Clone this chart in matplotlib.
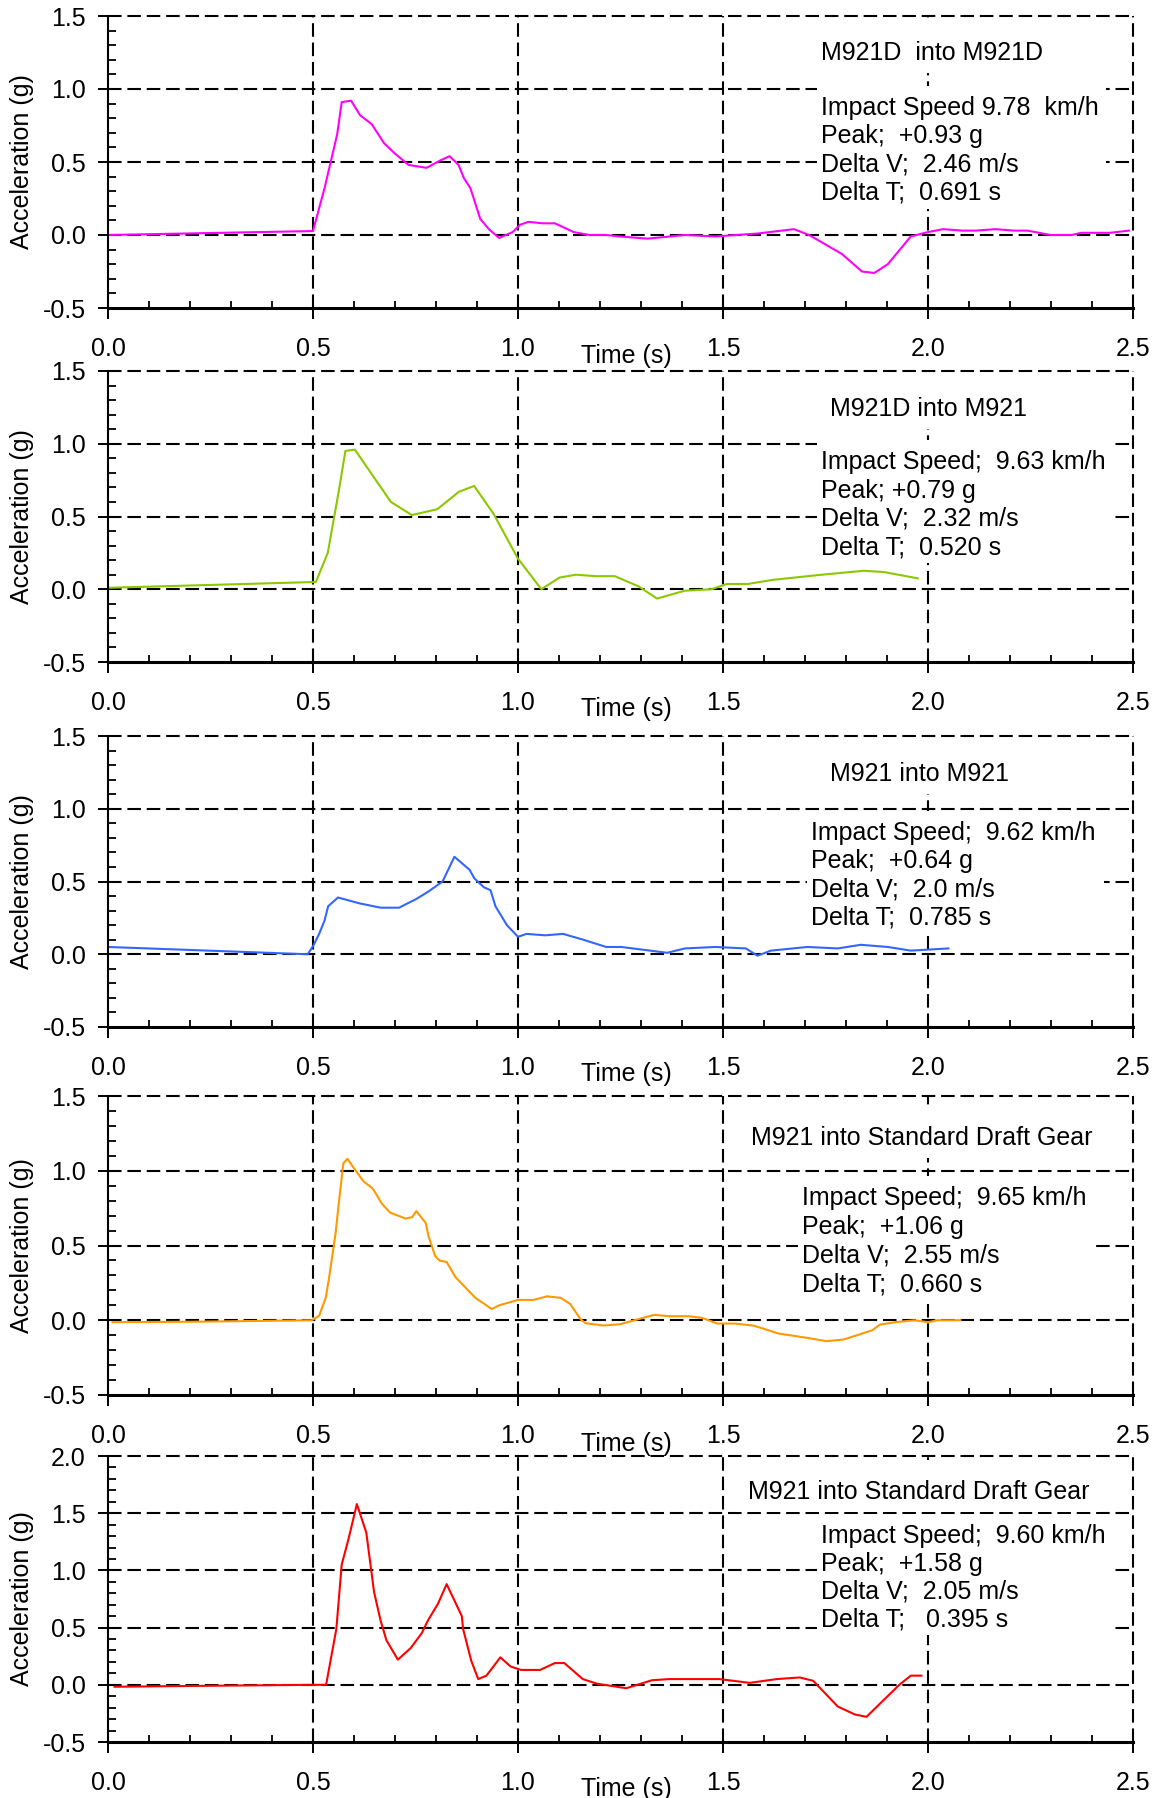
import numpy as np
import matplotlib
matplotlib.use('Agg')
import matplotlib.pyplot as plt
from matplotlib.ticker import MultipleLocator, FormatStrFormatter
from matplotlib.patches import Rectangle
from matplotlib.transforms import Bbox

plt.rcParams['font.family'] = ['Liberation Sans', 'DejaVu Sans']

# --- data ---
t1 = [0, 0.5, 0.529, 0.559, 0.570, 0.593, 0.615, 0.643, 0.673, 0.699, 0.733, 0.777, 0.81, 0.833, 0.855,
      0.868, 0.884, 0.908, 0.929, 0.954, 0.987, 1.005, 1.025, 1.06, 1.09, 1.136, 1.174, 1.215, 1.248, 1.316,
      1.407, 1.481, 1.584, 1.673, 1.71, 1.79, 1.839, 1.869, 1.902, 1.958, 2.0, 2.037, 2.084, 2.117, 2.164,
      2.21, 2.243, 2.299, 2.35, 2.374, 2.444, 2.49]
a1 = [0, 0.027, 0.33, 0.69, 0.91, 0.92, 0.82, 0.76, 0.63, 0.56, 0.48, 0.46, 0.51, 0.54, 0.48,
      0.39, 0.32, 0.11, 0.04, -0.02, 0.02, 0.07, 0.09, 0.08, 0.08, 0.02, 0.0, 0.0, -0.01, -0.025,
      0.0, -0.01, 0.01, 0.04, 0.0, -0.13, -0.25, -0.26, -0.20, -0.01, 0.02, 0.04, 0.03, 0.03, 0.04,
      0.03, 0.03, 0.0, 0.0, 0.015, 0.015, 0.03]

t2 = [0, 0.507, 0.536, 0.562, 0.579, 0.602, 0.690, 0.741, 0.803, 0.856, 0.893, 0.940, 1.0, 1.057, 1.101,
      1.141, 1.19, 1.236, 1.294, 1.339, 1.407, 1.472, 1.509, 1.56, 1.62, 1.734, 1.843, 1.893, 1.975]
a2 = [0.01, 0.05, 0.25, 0.66, 0.95, 0.96, 0.60, 0.51, 0.55, 0.67, 0.71, 0.52, 0.21, 0.0, 0.08,
      0.10, 0.09, 0.09, 0.02, -0.064, -0.01, 0.0, 0.036, 0.036, 0.064, 0.098, 0.127, 0.118, 0.075]

t3 = [0, 0.487, 0.501, 0.515, 0.528, 0.537, 0.561, 0.613, 0.665, 0.71, 0.752, 0.781, 0.816, 0.845, 0.882,
      0.894, 0.917, 0.933, 0.945, 0.973, 1.0, 1.021, 1.066, 1.11, 1.159, 1.215, 1.252, 1.364, 1.407, 1.481,
      1.556, 1.584, 1.617, 1.706, 1.78, 1.836, 1.902, 1.958, 2.05]
a3 = [0.05, 0.0, 0.06, 0.14, 0.23, 0.33, 0.39, 0.35, 0.32, 0.32, 0.38, 0.43, 0.50, 0.67, 0.58,
      0.52, 0.46, 0.44, 0.33, 0.20, 0.12, 0.14, 0.13, 0.14, 0.10, 0.05, 0.05, 0.01, 0.04, 0.05,
      0.04, -0.01, 0.025, 0.05, 0.04, 0.065, 0.05, 0.025, 0.04]

t4 = [0.011, 0.203, 0.497, 0.515, 0.531, 0.539, 0.555, 0.562, 0.574, 0.584, 0.599, 0.623, 0.646, 0.668, 0.688,
      0.726, 0.742, 0.752, 0.775, 0.782, 0.798, 0.808, 0.826, 0.847, 0.896, 0.936, 0.954, 1.0, 1.038, 1.071,
      1.104, 1.127, 1.153, 1.165, 1.208, 1.248, 1.332, 1.369, 1.416, 1.449, 1.486, 1.528, 1.575, 1.636, 1.706,
      1.752, 1.794, 1.864, 1.883, 1.92, 1.967, 2.0, 2.023, 2.079]
a4 = [-0.013, -0.01, 0.0, 0.03, 0.15, 0.28, 0.58, 0.76, 1.05, 1.08, 1.02, 0.93, 0.88, 0.78, 0.72,
      0.68, 0.69, 0.73, 0.65, 0.56, 0.43, 0.40, 0.39, 0.29, 0.15, 0.075, 0.10, 0.136, 0.136, 0.16,
      0.15, 0.11, 0.005, -0.02, -0.035, -0.027, 0.036, 0.027, 0.027, 0.016, -0.022, -0.022, -0.036, -0.089, -0.118,
      -0.14, -0.129, -0.067, -0.029, -0.013, 0.0, -0.013, 0.0, 0.0]

t5 = [0.016, 0.203, 0.497, 0.532, 0.557, 0.57, 0.587, 0.607, 0.63, 0.649, 0.665, 0.679, 0.707, 0.738, 0.765,
      0.78, 0.805, 0.826, 0.863, 0.866, 0.886, 0.903, 0.923, 0.957, 0.982, 1.007, 1.054, 1.09, 1.113, 1.158,
      1.192, 1.264, 1.327, 1.369, 1.491, 1.565, 1.631, 1.687, 1.72, 1.78, 1.822, 1.85, 1.93, 1.958, 1.984]
a5 = [-0.017, -0.01, 0.0, 0.0, 0.49, 1.05, 1.28, 1.58, 1.33, 0.81, 0.56, 0.39, 0.22, 0.32, 0.45,
      0.56, 0.71, 0.88, 0.60, 0.49, 0.21, 0.05, 0.08, 0.24, 0.16, 0.13, 0.13, 0.19, 0.19, 0.05,
      0.01, -0.03, 0.04, 0.05, 0.05, 0.017, 0.05, 0.064, 0.035, -0.19, -0.26, -0.28, 0.0, 0.08, 0.08]

titles = ['M921D  into M921D', 'M921D into M921', 'M921 into M921',
          'M921 into Standard Draft Gear', 'M921 into Standard Draft Gear']
stats = [
    ['Impact Speed 9.78  km/h', 'Peak;  +0.93 g', 'Delta V;  2.46 m/s', 'Delta T;  0.691 s'],
    ['Impact Speed;  9.63 km/h', 'Peak; +0.79 g', 'Delta V;  2.32 m/s', 'Delta T;  0.520 s'],
    ['Impact Speed;  9.62 km/h', 'Peak;  +0.64 g', 'Delta V;  2.0 m/s', 'Delta T;  0.785 s'],
    ['Impact Speed;  9.65 km/h', 'Peak;  +1.06 g', 'Delta V;  2.55 m/s', 'Delta T;  0.660 s'],
    ['Impact Speed;  9.60 km/h', 'Peak;  +1.58 g', 'Delta V;  2.05 m/s', 'Delta T;   0.395 s'],
]
ymaxes = [1.5, 1.5, 1.5, 1.5, 2.0]
colors = ['#ff00ff', '#8cc800', '#3366ff', '#ff9900', '#ff0000']
series = [(t1, a1), (t2, a2), (t3, a3), (t4, a4), (t5, a5)]

# --- layout (pixels in 1158x1798 figure) ---
W, H = 1158, 1798
panel_px = [(16, 308), (371, 662), (736, 1027), (1096, 1395), (1456, 1742)]
title_pos = [(2.01, 0.849), (2.0, 0.845), (1.98, 0.845), (1.985, 0.835), (1.977, 0.85)]
stats_pos = [(1.738, 0.662), (1.738, 0.662), (1.715, 0.642), (1.692, 0.637), (1.738, 0.696)]
line_step = 0.097
fs = 18

fig = plt.figure(figsize=(W / 100, H / 100), dpi=100)
axes = []
texts = []
for i in range(5):
    top, bot = panel_px[i]
    ax = fig.add_axes([108 / W, 1 - bot / H, (1133 - 108) / W, (bot - top) / H])
    axes.append(ax)
    t, a = series[i]
    ax.plot(t, a, color=colors[i], lw=1.5, zorder=4)
    ax.set_xlim(0, 2.5)
    ax.set_ylim(-0.5, ymaxes[i])

    for x in np.arange(0.5, 2.51, 0.5):
        ax.axvline(x, color='black', lw=1.5, dashes=(6.5, 2.8), zorder=1, clip_on=False)
    for y in np.arange(0.0, ymaxes[i] + 0.01, 0.5):
        ax.axhline(y, color='black', lw=1.5, dashes=(6.5, 2.8), zorder=1, clip_on=False)

    ax.spines['top'].set_visible(False)
    ax.spines['right'].set_visible(False)
    ax.spines['left'].set_linewidth(1.5)
    ax.spines['bottom'].set_linewidth(2.2)
    ax.spines['left'].set_zorder(5)
    ax.spines['bottom'].set_zorder(5)

    ax.set_xticks(np.arange(0, 2.51, 0.5))
    ax.set_yticks(np.arange(-0.5, ymaxes[i] + 0.01, 0.5))
    ax.xaxis.set_minor_locator(MultipleLocator(0.1))
    ax.yaxis.set_minor_locator(MultipleLocator(0.1))
    ax.xaxis.set_major_formatter(FormatStrFormatter('%.1f'))
    ax.yaxis.set_major_formatter(FormatStrFormatter('%.1f'))
    ax.tick_params(axis='x', which='major', direction='out', length=8, width=1.4, pad=13, labelsize=fs)
    ax.tick_params(axis='x', which='minor', direction='in', length=5, width=1.3)
    ax.tick_params(axis='y', which='major', direction='out', length=7, width=1.4, pad=9, labelsize=fs)
    ax.tick_params(axis='y', which='minor', direction='in', length=6, width=1.3)

    ax.text(-0.084, 0.5, 'Acceleration (g)', rotation=90, ha='center', va='center',
            transform=ax.transAxes, fontsize=fs)
    ax.text(0.506, -0.163, 'Time (s)', ha='center', va='center', transform=ax.transAxes, fontsize=fs)

    tx, ty = title_pos[i]
    tt = ax.text(tx, ty, titles[i], ha='center', va='baseline', fontsize=fs, zorder=6,
                 transform=ax.get_xaxis_transform())
    sx, sy = stats_pos[i]
    st = []
    for k, line in enumerate(stats[i]):
        st.append(ax.text(sx, sy - k * line_step, line, ha='left', va='baseline', fontsize=fs, zorder=6,
                          transform=ax.get_xaxis_transform()))
    texts.append((tt, st))

# white backgrounds behind the annotation blocks
fig.canvas.draw()
r = fig.canvas.get_renderer()
for ax, (tt, st) in zip(axes, texts):
    inv = ax.transAxes.inverted()
    for group, pads in (([tt], (12, 8, 12, 20)), (st, (4, 4, 8, 10))):
        bb = Bbox.union([t.get_window_extent(r) for t in group])
        (x0, y0), (x1, y1) = inv.transform([[bb.x0 - pads[0], bb.y0 - pads[1]],
                                            [bb.x1 + pads[2], bb.y1 + pads[3]]])
        ax.add_patch(Rectangle((x0, y0), x1 - x0, y1 - y0, transform=ax.transAxes,
                               facecolor='white', edgecolor='none', zorder=2))

fig.savefig('out.png', dpi=100)
